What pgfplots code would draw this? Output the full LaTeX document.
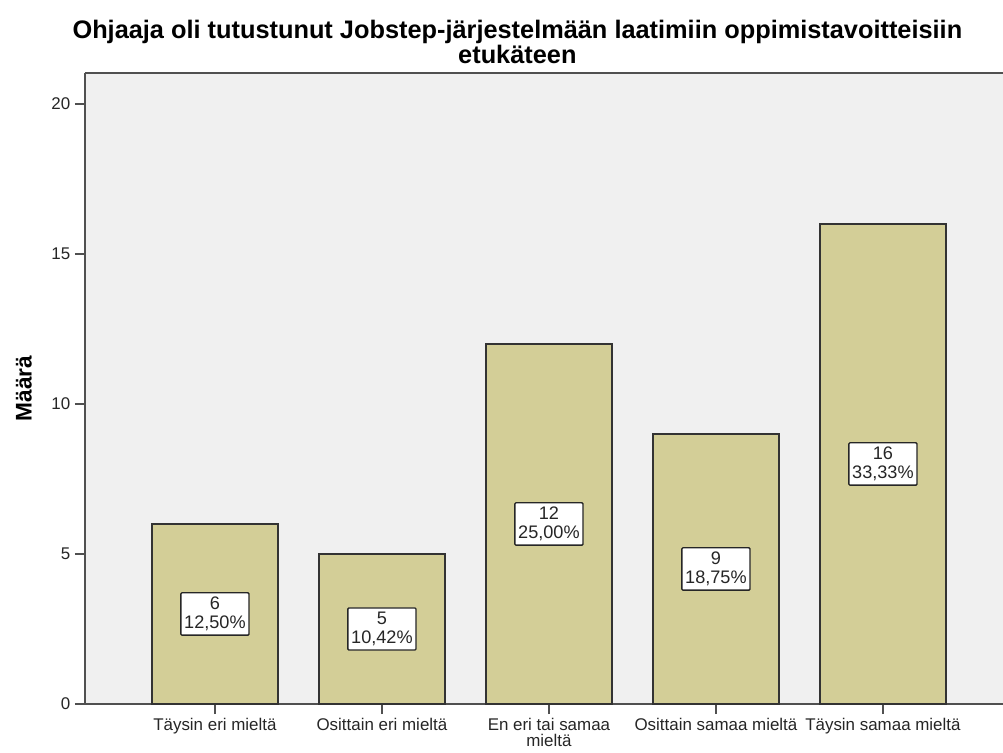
\documentclass[border=0pt]{standalone}
\usepackage{pgfplots}
\pgfplotsset{compat=1.18}
\usepackage{fontspec}
\setmainfont{Liberation Sans}
\definecolor{barfill}{RGB}{211,206,151}
\definecolor{bgcol}{RGB}{240,240,240}
\definecolor{spine}{RGB}{80,80,80}
\begin{document}
\begin{tikzpicture}
\begin{axis}[
  scale only axis,
  width=688.5pt, height=473.25pt,
  xmin=-0.778, xmax=4.719,
  ymin=0, ymax=21.03,
  axis x line=bottom, axis y line=left,
  axis line style={spine, line width=1.5pt, -},
  axis background/.style={fill=bgcol},
  ybar, bar width=94.5pt, bar shift=0pt,
  xtick={0,1,2,3,4},
  xticklabels={Täysin eri mieltä, Osittain eri mieltä, {En eri tai samaa\\mieltä}, Osittain samaa mieltä, Täysin samaa mieltä},
  xticklabel style={align=center, font=\fontsize{12.7}{12}\selectfont, text=black!85},
  ytick={0,5,10,15,20},
  yticklabel style={font=\fontsize{12.7}{14}\selectfont, text=black!85},
  /pgf/number format/assume math mode=true,
  tick align=outside, major tick length=7.5pt,
  tick style={spine, line width=1pt},
  ylabel={Määrä},
  ylabel style={font=\fontsize{17}{19}\selectfont\bfseries, at={(axis description cs:-0.0665,0.5)}, anchor=center},
  title={Ohjaaja oli tutustunut Jobstep-järjestelmään laatimiin oppimistavoitteisiin\\etukäteen},
  title style={at={(rel axis cs:0.471,1)}, anchor=south, yshift=0.75pt, align=center, inner sep=0pt, font=\fontsize{19}{18.75}\selectfont\bfseries},
]
\addplot[fill=barfill, draw=black!80, line width=1pt,
  nodes near coords, point meta=explicit symbolic,
  visualization depends on=y \as \rawy,
  every node near coord/.append style={shift={(axis direction cs:0,-\rawy/2)}, anchor=center, fill=white, draw=black!85, line width=1pt, rounded corners=0.8pt, align=center, font=\fontsize{13.6}{14.5}\selectfont, inner xsep=2.5pt, inner ysep=3pt, text=black!85}
] table[x=x, y=y, meta=lab] {
x y lab
0 6 {6\\12,50\%}
1 5 {5\\10,42\%}
2 12 {12\\25,00\%}
3 9 {9\\18,75\%}
4 16 {16\\33,33\%}
};
\draw[spine, line width=1.5pt] (rel axis cs:0,1) -- (rel axis cs:1.01,1);
\end{axis}
\pgfresetboundingbox
\path (current axis.south west) ++(-63.75pt,-36.75pt) rectangle ++(752.25pt,564.75pt);
\end{tikzpicture}
\end{document}
